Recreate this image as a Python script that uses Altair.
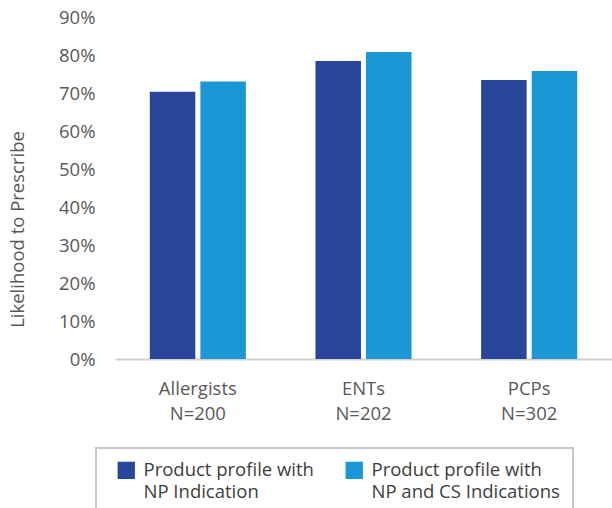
import altair as alt
import pandas as pd

categories = ["Allergists", "ENTs", "PCPs"]
sample_sizes = ["N=200", "N=202", "N=302"]
series_names = ["Product profile with NP Indication", "Product profile with NP and CS Indications"]
legend_line1 = ["Product profile with", "Product profile with"]
legend_line2 = ["NP Indication", "NP and CS Indications"]
np_values = [0.703, 0.784, 0.734]
np_cs_values = [0.730, 0.808, 0.758]
colors = ["#28479b", "#1c97d5"]

rows = []
for cat, v1, v2 in zip(categories, np_values, np_cs_values):
    rows.append({"group": cat, "series": series_names[0], "value": v1})
    rows.append({"group": cat, "series": series_names[1], "value": v2})
df = pd.DataFrame(rows)

label_map = "{" + ",".join(f"'{c}':['{c}','{n}']" for c, n in zip(categories, sample_sizes)) + "}"

# legend: first row shows the series (with swatches), second row carries the second line of text
second_row_keys = ["line2_" + t for t in legend_line2]
legend_domain = series_names + second_row_keys
legend_range = colors + ["#ffffff", "#ffffff"]
legend_text = {s: l1 for s, l1 in zip(series_names, legend_line1)}
legend_text.update({k: t for k, t in zip(second_row_keys, legend_line2)})
legend_map = "{" + ",".join(f"'{k}':'{v}'" for k, v in legend_text.items()) + "}"
# the legend frame runs past the right edge of the picture in the reference
legend_label_expr = legend_map + "[datum.label] + (datum.label == '" + second_row_keys[1] + "' ? '\u00a0\u00a0\u00a0\u00a0\u00a0\u00a0\u00a0\u00a0\u00a0\u00a0\u00a0\u00a0' : '')"

font = "Open Sans"
fs = 18.5

base = alt.Chart(df).mark_bar().encode(
    x=alt.X("group:N", sort=categories,
            scale=alt.Scale(paddingInner=0.42, paddingOuter=0.21),
            axis=alt.Axis(title=None, labelAngle=0, ticks=False, domainColor="#d0d0d0", domainWidth=2,
                          labelExpr=label_map + "[datum.label]", labelFont=font, labelFontSize=fs,
                          labelColor="#595959", labelPadding=20, labelLineHeight=25)),
    xOffset=alt.XOffset("series:N", sort=series_names, scale=alt.Scale(paddingInner=0.1, paddingOuter=0)),
    y=alt.Y("value:Q", scale=alt.Scale(domain=[0, 0.9], nice=False),
            axis=alt.Axis(title="Likelihood to Prescribe", format=".0%",
                          values=[0, 0.1, 0.2, 0.3, 0.4, 0.5, 0.6, 0.7, 0.8, 0.9],
                          grid=False, domain=False, ticks=False, labelPadding=20,
                          labelFont=font, labelFontSize=fs, labelColor="#595959",
                          titleFont=font, titleFontSize=fs, titleFontWeight="normal", titleColor="#595959",
                          titleX=-98, titleY=212, titleAngle=-90, titleBaseline="middle", titleAlign="center")),
    color=alt.Color("series:N",
                    scale=alt.Scale(domain=legend_domain, range=legend_range),
                    legend=alt.Legend(title=None, orient="none", legendX=-19, legendY=431,
                                      direction="horizontal", columns=2, columnPadding=23, rowPadding=3,
                                      symbolType="square", symbolSize=300, symbolStrokeWidth=0,
                                      symbolOffset=8,
                                      labelExpr=legend_label_expr,
                                      labelFont=font, labelFontSize=fs, labelColor="#404040",
                                      labelLimit=500, labelOffset=8, labelBaseline="middle",
                                      strokeColor="#c8c8c8", fillColor="white",
                                      padding=13)),
).properties(
    width=497, height=342,
    autosize=alt.AutoSizeParams(type="none"),
    padding={"left": 115, "top": 17, "right": 0, "bottom": 149},
).configure_view(stroke=None)

try:
    chart = base.configure_legend(strokeWidth=2)
    chart.to_dict()
except Exception:
    chart = base

chart.save("out.html", embed_options={"renderer": "svg", "actions": False})
